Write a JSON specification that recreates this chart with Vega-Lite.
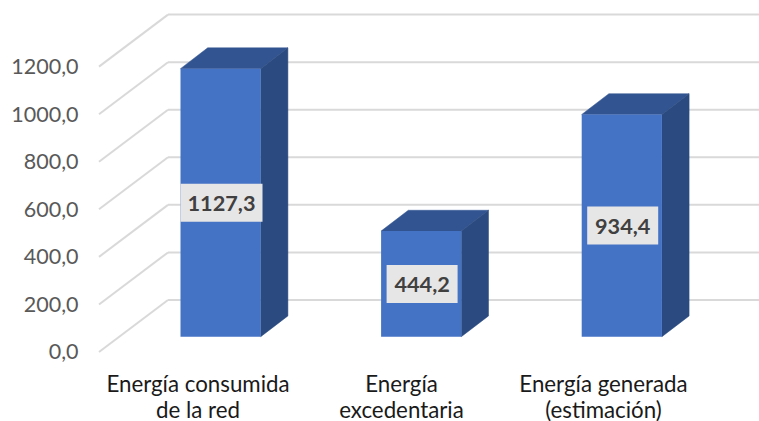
{"$schema":"https://vega.github.io/schema/vega-lite/v6.json","width":759,"height":421,"padding":0,"autosize":{"type":"none"},"background":"white","config":{"view":{"stroke":null},"font":"Lato"},"data":{"values":[{"categoria":"Energía consumida de la red","valor":1127.3},{"categoria":"Energía excedentaria","valor":444.2},{"categoria":"Energía generada (estimación)","valor":934.4}]},"transform":[{"window":[{"op":"row_number","as":"n"}]},{"calculate":"180.5+200.6*(datum.n-1)","as":"x0"},{"calculate":"datum.x0+80.2","as":"x1"},{"calculate":"64.3","as":"base"},{"calculate":"datum.valor+64.3","as":"tope"},{"calculate":"datum.valor/2+64.3","as":"medio"},{"calculate":"replace(format(datum.valor,'.1f'),'.',',')","as":"etiqueta"},{"calculate":"length(datum.etiqueta)*11+16","as":"anchoCaja"},{"calculate":"datum.x0+41-datum.anchoCaja/2","as":"cajaA"},{"calculate":"datum.x0+41+datum.anchoCaja/2","as":"cajaB"},{"calculate":"datum.x0+41","as":"cajaC"},{"calculate":"datum.medio-19/0.2378","as":"cajaY1"},{"calculate":"datum.medio+19/0.2378","as":"cajaY2"}],"layer":[{"data":{"values":[{"t":0},{"t":200},{"t":400},{"t":600},{"t":800},{"t":1000},{"t":1200}]},"transform":[{"calculate":"datum.t+218.7","as":"fondo"},{"calculate":"99","as":"xa"},{"calculate":"168","as":"xb"}],"mark":{"type":"rule","color":"#d9d9d9","strokeWidth":2},"encoding":{"x":{"field":"xa","type":"quantitative","scale":{"domain":[0,759],"nice":false,"zero":false},"axis":{"values":[197.5,401,603],"labelExpr":"datum.value<300?['Energía consumida','de la red']:datum.value<500?['Energía','excedentaria']:['Energía generada','(estimación)']","orient":"bottom","offset":-48,"labelPadding":0,"ticks":false,"domain":false,"grid":false,"title":null,"labelFont":"Lato","labelFontSize":22.3,"labelColor":"#1a1a1a","labelLineHeight":26,"labelLimit":400,"labelAlign":"center","labelBaseline":"top","labelOverlap":false,"labelBound":false,"labelFlush":false}},"x2":{"field":"xb"},"y":{"field":"t","type":"quantitative","scale":{"domain":[-290.2,1480.2],"nice":false,"zero":false},"axis":{"values":[0,200,400,600,800,1000,1200],"labelExpr":"replace(format(datum.value,'.1f'),'.',',')","orient":"left","offset":-78,"labelPadding":0,"labelOffset":1,"ticks":false,"domain":false,"grid":false,"title":null,"labelFont":"Lato","labelFontSize":21.5,"labelColor":"#595959","labelBound":false,"labelOverlap":false}},"y2":{"field":"fondo"}}},{"data":{"values":[{"t":0},{"t":200},{"t":400},{"t":600},{"t":800},{"t":1000},{"t":1200}]},"transform":[{"calculate":"datum.t+218.7","as":"fondo"},{"calculate":"168","as":"xb"},{"calculate":"759","as":"xc"}],"mark":{"type":"rule","color":"#d9d9d9","strokeWidth":2},"encoding":{"x":{"field":"xb","type":"quantitative"},"x2":{"field":"xc"},"y":{"field":"fondo","type":"quantitative"}}},{"transform":[{"calculate":"[0,1,2,3]","as":"k"},{"flatten":["k"]},{"calculate":"[datum.x0,datum.x0+27.2,datum.x1,datum.x1+27.2][datum.k]","as":"px"},{"calculate":"[datum.tope,datum.tope+87.5,datum.tope+87.5,datum.tope+87.5][datum.k]","as":"alto"},{"calculate":"[datum.tope,datum.tope,datum.tope,datum.tope+87.5][datum.k]","as":"bajo"}],"mark":{"type":"area","color":"#325591","stroke":"#325591","strokeWidth":0.5},"encoding":{"x":{"field":"px","type":"quantitative"},"y":{"field":"alto","type":"quantitative","stack":null},"y2":{"field":"bajo"},"detail":{"field":"categoria"}}},{"transform":[{"calculate":"[0,1]","as":"k"},{"flatten":["k"]},{"calculate":"[datum.x1,datum.x1+27.2][datum.k]","as":"px"},{"calculate":"[datum.tope,datum.tope+87.5][datum.k]","as":"alto"},{"calculate":"[datum.base,datum.base+87.5][datum.k]","as":"bajo"}],"mark":{"type":"area","color":"#2a4a80","stroke":"#2a4a80","strokeWidth":0.5},"encoding":{"x":{"field":"px","type":"quantitative"},"y":{"field":"alto","type":"quantitative","stack":null},"y2":{"field":"bajo"},"detail":{"field":"categoria"}}},{"mark":{"type":"rect","color":"#4472c4"},"encoding":{"x":{"field":"x0","type":"quantitative"},"x2":{"field":"x1"},"y":{"field":"base","type":"quantitative"},"y2":{"field":"tope"}}},{"mark":{"type":"rect","color":"#e7e6e6"},"encoding":{"x":{"field":"cajaA","type":"quantitative"},"x2":{"field":"cajaB"},"y":{"field":"cajaY1","type":"quantitative"},"y2":{"field":"cajaY2"}}},{"mark":{"type":"text","font":"Lato","fontWeight":"bold","fontSize":21.7,"color":"#404040","align":"center","baseline":"middle","dy":1},"encoding":{"x":{"field":"cajaC","type":"quantitative"},"y":{"field":"medio","type":"quantitative"},"text":{"field":"etiqueta","type":"nominal"}}}]}
